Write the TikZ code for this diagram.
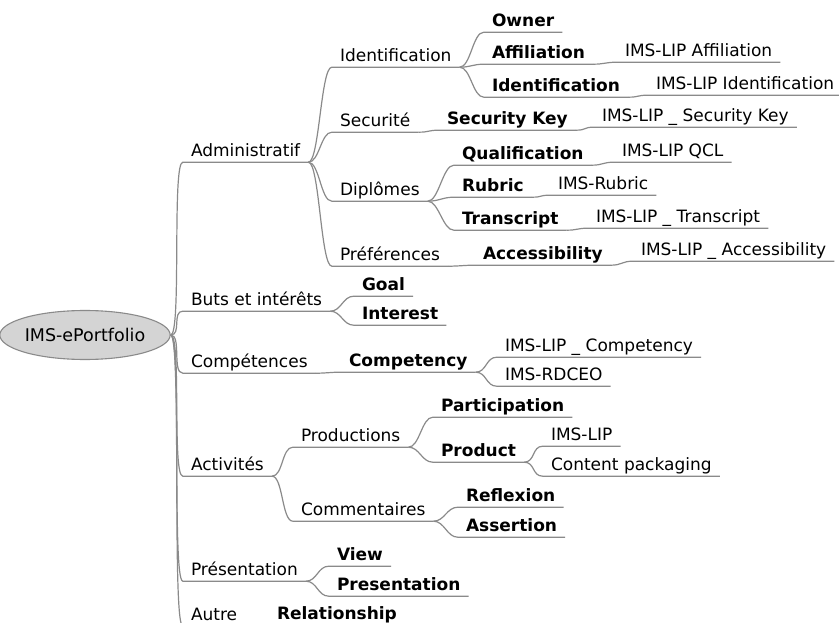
\documentclass[tikz,border=0pt]{standalone}
\usepackage{fontspec}
\setmainfont{DejaVu Sans}
\usetikzlibrary{shapes,positioning,calc}
\definecolor{linegray}{HTML}{8A8A8A}
\definecolor{hubgray}{HTML}{D4D4D4}
\tikzset{
hub/.style = {draw=linegray, fill=hubgray, ellipse, line width=1.1pt, minimum width=144pt, minimum height=49pt, inner sep=0pt, font=\fontsize{17.5}{20}\selectfont},
topic/.style = {anchor=text, yshift=5.5pt, inner xsep=8pt, inner ysep=0pt, text depth=5.5pt, font=\fontsize{17}{20}\selectfont},
keyword/.style = {topic, font=\fontsize{17}{20}\selectfont\bfseries},
branch/.style = {draw=linegray, line width=1.2pt},
link/.style = {out=0, in=180, distance=11pt}
}

\begin{document}
\begin{tikzpicture}[x=1pt, y=-1pt]
                \useasboundingbox (0,0) rectangle (839,623);
                \clip (0,0) rectangle (839,623);

                \node [hub] (portfolio) at (85,335) {IMS-ePortfolio};

                % first level
                \node [topic] (admin) at (191,162) {Administratif};
                \node [topic] (buts) at (191,311) {Buts et intérêts};
                \node [topic] (compet) at (191,373) {Compétences};
                \node [topic] (activ) at (191,476) {Activités};
                \node [topic] (present) at (191,581) {Présentation};
                \node [topic] (autre) at (191,626) {Autre};

                % Administratif
                \node [topic] (ident) at (340,67) {Identification};
                \node [topic] (secur) at (340,132) {Securité};
                \node [topic] (diplo) at (340,201) {Diplômes};
                \node [topic] (prefs) at (340,266) {Préférences};
                \node [keyword] (owner) at (492,32) {Owner};
                \node [keyword] (affil) at (492,64) {Affiliation};
                \node [keyword] (identb) at (492,97) {Identification};
                \node [topic] (lipaffil) at (625,62) {IMS-LIP Affiliation};
                \node [topic] (lipident) at (656,95) {IMS-LIP Identification};
                \node [keyword] (seckey) at (447,130) {Security Key};
                \node [topic] (lipsec) at (602,127) {IMS-LIP \_ Security Key};
                \node [keyword] (qualif) at (462,165) {Qualification};
                \node [keyword] (rubric) at (462,197) {Rubric};
                \node [keyword] (transc) at (462,230) {Transcript};
                \node [topic] (lipqcl) at (622,162) {IMS-LIP QCL};
                \node [topic] (imsrub) at (558,195) {IMS-Rubric};
                \node [topic] (liptrans) at (596,228) {IMS-LIP \_ Transcript};
                \node [keyword] (access) at (483,265) {Accessibility};
                \node [topic] (lipacc) at (641,261) {IMS-LIP \_ Accessibility};

                % Buts et interets, Competences
                \node [keyword] (goal) at (362,296) {Goal};
                \node [keyword] (interest) at (362,325) {Interest};
                \node [keyword] (competency) at (349,372) {Competency};
                \node [topic] (lipcomp) at (505,357) {IMS-LIP \_ Competency};
                \node [topic] (rdceo) at (505,386) {IMS-RDCEO};

                % Activites
                \node [topic] (prod) at (301,447) {Productions};
                \node [topic] (comment) at (301,521) {Commentaires};
                \node [keyword] (particip) at (441,417) {Participation};
                \node [keyword] (product) at (441,462) {Product};
                \node [topic] (imslip) at (551,446) {IMS-LIP};
                \node [topic] (content) at (551,476) {Content packaging};
                \node [keyword] (reflex) at (466,507) {Reflexion};
                \node [keyword] (assert) at (466,537) {Assertion};

                % Presentation, Autre
                \node [keyword] (view) at (337,566) {View};
                \node [keyword] (presb) at (337,596) {Presentation};
                \node [keyword] (relat) at (277,625) {Relationship};

                \draw [branch] (portfolio.east) to[link] (admin.south west) -- (admin.south east);
                \draw [branch] (portfolio.east) to[link] (buts.south west) -- (buts.south east);
                \draw [branch] (portfolio.east) to[link] (compet.south west) -- (compet.south east);
                \draw [branch] (portfolio.east) to[link] (activ.south west) -- (activ.south east);
                \draw [branch] (portfolio.east) to[link] (present.south west) -- (present.south east);
                \draw [branch] (portfolio.east) to[link] (autre.south west) -- (autre.south east);

                \draw [branch] (admin.south east) to[link] (ident.south west) -- (ident.south east);
                \draw [branch] (admin.south east) to[link] (secur.south west) -- (secur.south east);
                \draw [branch] (admin.south east) to[link] (diplo.south west) -- (diplo.south east);
                \draw [branch] (admin.south east) to[link] (prefs.south west) -- (prefs.south east);
                \draw [branch] (ident.south east) to[link] (owner.south west) -- (owner.south east);
                \draw [branch] (ident.south east) to[link] (affil.south west) -- (affil.south east);
                \draw [branch] (ident.south east) to[link] (identb.south west) -- (identb.south east);
                \draw [branch] (affil.south east) to[link] (lipaffil.south west) -- (lipaffil.south east);
                \draw [branch] (identb.south east) to[link] (lipident.south west) -- (lipident.south east);
                \draw [branch] (secur.south east) to[link] (seckey.south west) -- (seckey.south east);
                \draw [branch] (seckey.south east) to[link] (lipsec.south west) -- (lipsec.south east);
                \draw [branch] (diplo.south east) to[link] (qualif.south west) -- (qualif.south east);
                \draw [branch] (diplo.south east) to[link] (rubric.south west) -- (rubric.south east);
                \draw [branch] (diplo.south east) to[link] (transc.south west) -- (transc.south east);
                \draw [branch] (qualif.south east) to[link] (lipqcl.south west) -- (lipqcl.south east);
                \draw [branch] (rubric.south east) to[link] (imsrub.south west) -- (imsrub.south east);
                \draw [branch] (transc.south east) to[link] (liptrans.south west) -- (liptrans.south east);
                \draw [branch] (prefs.south east) to[link] (access.south west) -- (access.south east);
                \draw [branch] (access.south east) to[link] (lipacc.south west) -- (lipacc.south east);

                \draw [branch] (buts.south east) to[link] (goal.south west) -- (goal.south east);
                \draw [branch] (buts.south east) to[link] (interest.south west) -- (interest.south east);
                \draw [branch] (compet.south east) to[link] (competency.south west) -- (competency.south east);
                \draw [branch] (competency.south east) to[link] (lipcomp.south west) -- (lipcomp.south east);
                \draw [branch] (competency.south east) to[link] (rdceo.south west) -- (rdceo.south east);

                \draw [branch] (activ.south east) to[link] (prod.south west) -- (prod.south east);
                \draw [branch] (activ.south east) to[link] (comment.south west) -- (comment.south east);
                \draw [branch] (prod.south east) to[link] (particip.south west) -- (particip.south east);
                \draw [branch] (prod.south east) to[link] (product.south west) -- (product.south east);
                \draw [branch] (product.south east) to[link] (imslip.south west) -- (imslip.south east);
                \draw [branch] (product.south east) to[link] (content.south west) -- (content.south east);
                \draw [branch] (comment.south east) to[link] (reflex.south west) -- (reflex.south east);
                \draw [branch] (comment.south east) to[link] (assert.south west) -- (assert.south east);

                \draw [branch] (present.south east) to[link] (view.south west) -- (view.south east);
                \draw [branch] (present.south east) to[link] (presb.south west) -- (presb.south east);
                \draw [branch] (autre.south east) to[link] (relat.south west) -- (relat.south east);
\end{tikzpicture}
\end{document}
